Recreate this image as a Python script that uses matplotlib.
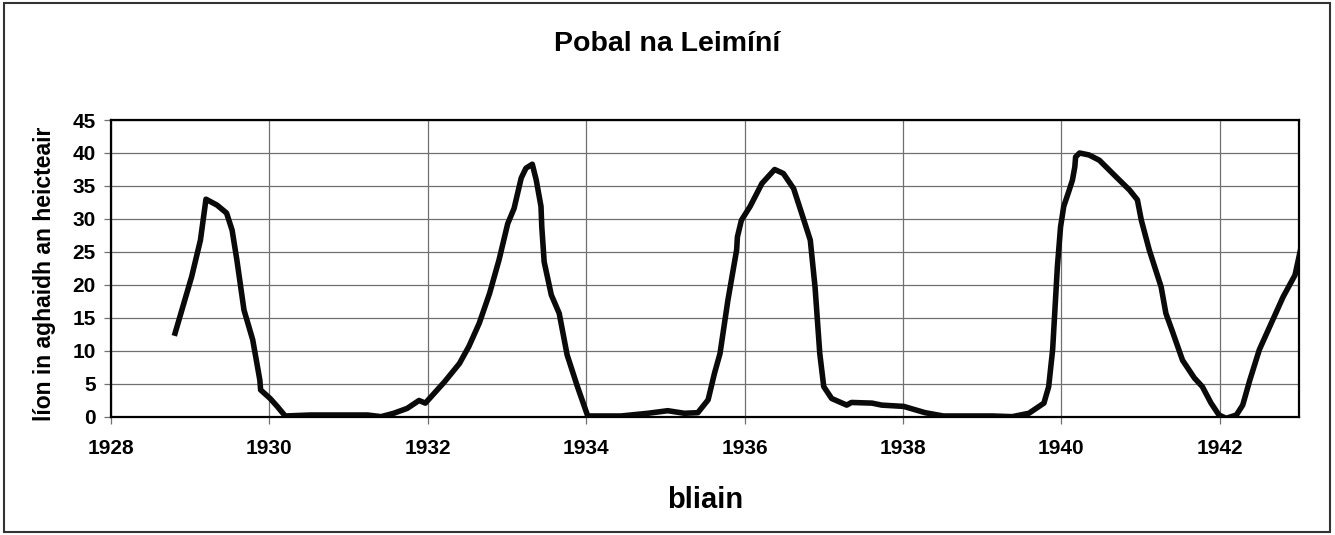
import matplotlib.pyplot as plt
from matplotlib.patches import Rectangle

plt.rcParams["font.family"] = ["Liberation Sans", "DejaVu Sans"]
plt.rcParams["font.weight"] = "bold"

title = "Pobal na Leimíní"
xlabel = "bliain"
ylabel = "líon in aghaidh an heicteair"

# values
years = [
    1928.81, 1929.02, 1929.13, 1929.20, 1929.34, 1929.46, 1929.53, 1929.59,
    1929.68, 1929.79, 1929.88, 1929.89, 1930.01, 1930.10, 1930.20, 1930.52,
    1931.24, 1931.41, 1931.57, 1931.74, 1931.89, 1931.97, 1932.21, 1932.40,
    1932.52, 1932.65, 1932.78, 1932.90, 1933.01, 1933.09, 1933.18, 1933.24,
    1933.32, 1933.37, 1933.43, 1933.44, 1933.47, 1933.56, 1933.66, 1933.76,
    1933.89, 1934.02, 1934.10, 1934.44, 1934.78, 1935.03, 1935.24, 1935.41,
    1935.54, 1935.62, 1935.69, 1935.79, 1935.90, 1935.91, 1935.96, 1936.07,
    1936.22, 1936.38, 1936.49, 1936.62, 1936.72, 1936.83, 1936.89, 1936.95,
    1937.00, 1937.10, 1937.29, 1937.35, 1937.61, 1937.73, 1938.01, 1938.28,
    1938.51, 1939.13, 1939.38, 1939.59, 1939.78, 1939.84, 1939.89, 1939.95,
    1939.99, 1940.03, 1940.10, 1940.14, 1940.17, 1940.18, 1940.23, 1940.35,
    1940.48, 1940.69, 1940.86, 1940.96, 1941.01, 1941.11, 1941.26, 1941.32,
    1941.41, 1941.53, 1941.68, 1941.78, 1941.89, 1941.99, 1942.08, 1942.21,
    1942.29, 1942.38, 1942.50, 1942.65, 1942.80, 1942.95, 1943.05,
]
counts = [
    12.7, 21.3, 26.8, 33.0, 32.1, 30.9, 28.3, 23.8,
    16.2, 11.7, 5.6, 4.1, 2.8, 1.6, 0.15, 0.3,
    0.3, 0.05, 0.56, 1.3, 2.5, 2.1, 5.3, 8.1,
    10.7, 14.2, 18.7, 23.8, 29.3, 31.6, 36.2, 37.7,
    38.3, 35.9, 31.9, 28.8, 23.5, 18.5, 15.7, 9.4,
    4.6, 0.15, 0.15, 0.15, 0.56, 0.95, 0.56, 0.65,
    2.6, 6.6, 9.6, 17.7, 25.3, 27.3, 29.8, 31.9,
    35.4, 37.5, 36.9, 34.6, 30.9, 26.8, 19.7, 9.6,
    4.6, 2.8, 1.8, 2.2, 2.1, 1.8, 1.6, 0.65,
    0.15, 0.15, 0.05, 0.56, 2.1, 4.6, 10.2, 22.8,
    28.8, 31.9, 34.4, 35.9, 37.9, 39.4, 40.0, 39.7,
    38.9, 36.4, 34.4, 32.9, 29.8, 25.3, 19.7, 15.7,
    12.7, 8.6, 5.9, 4.6, 2.1, 0.3, -0.2, 0.3,
    1.8, 5.6, 10.2, 14.2, 18.2, 21.5, 27.0,
]

x_ticks = list(range(1928, 1944, 2))
y_ticks = list(range(0, 50, 5))

fig = plt.figure(figsize=(13.35, 5.35), dpi=100)
ax = fig.add_axes([0.0831, 0.2206, 0.8899, 0.5551])

ax.plot(years, counts, color="#0a0a0a", lw=4.0, solid_joinstyle="round")

ax.set_xlim(1928, 1943)
ax.set_ylim(0, 45)
ax.set_xticks(x_ticks)
ax.set_yticks(y_ticks)
ax.grid(True, color="#707070", lw=0.9)
ax.set_axisbelow(True)
for s in ax.spines.values():
    s.set_linewidth(1.6)
    s.set_color("black")
ax.tick_params(axis="both", direction="out", length=5, width=0.9,
               color="#707070", labelsize=15)
ax.tick_params(axis="x", pad=11)
ax.tick_params(axis="y", pad=6)
for lab in ax.get_xticklabels() + ax.get_yticklabels():
    lab.set_fontweight("bold")

fig.text(0.5, 0.918, title, ha="center", va="center", fontsize=20.5, fontweight="bold")
fig.text(705 / 1335, 0.065, xlabel, ha="center", va="center", fontsize=21, fontweight="bold")
fig.text(45 / 1335, 0.488, ylabel, ha="center", va="center", rotation=90,
         fontsize=16.5, fontweight="bold")

fig.patches.append(Rectangle((0.003, 0.005), 0.993, 0.99, transform=fig.transFigure,
                             fill=False, edgecolor="#333333", lw=1.5))

fig.savefig("out.png", dpi=100)
